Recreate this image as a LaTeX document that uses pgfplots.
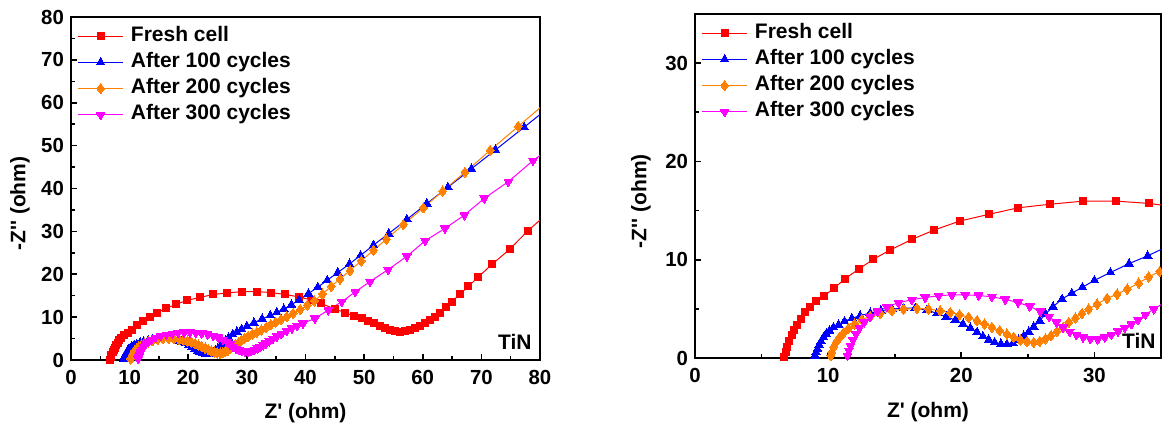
\documentclass[border=0pt]{standalone}
\usepackage{fontspec}
\setmainfont{Liberation Sans}
\usepackage{pgfplots}
\usepackage{pgfplotstable}
\pgfplotsset{compat=1.18}
\usetikzlibrary{plotmarks}
\definecolor{cRed}{RGB}{255,0,0}
\definecolor{cBlue}{RGB}{0,0,255}
\definecolor{cOrange}{RGB}{255,128,0}
\definecolor{cMag}{RGB}{255,0,255}

\pgfplotstableread{
x y
6.70 0.10
6.80 0.60
6.89 1.10
7.09 1.77
7.27 2.35
7.47 2.86
7.69 3.40
7.95 3.97
8.27 4.64
8.60 5.20
9.07 5.75
9.70 6.33
10.45 7.10
11.28 8.08
12.28 9.03
13.40 10.05
14.66 10.99
16.29 12.07
17.97 13.02
19.87 13.93
22.05 14.61
24.26 15.28
26.69 15.65
29.15 15.96
31.65 15.96
34.08 15.73
36.50 15.30
38.90 14.70
41.00 14.00
42.60 13.20
45.05 11.90
46.80 11.00
48.20 10.30
49.60 9.70
50.70 9.20
51.70 8.55
52.70 7.90
53.60 7.40
54.40 7.00
55.30 6.65
56.10 6.60
57.00 6.75
57.80 7.00
58.70 7.40
59.60 7.90
60.40 8.55
61.30 9.30
62.10 10.10
63.00 11.00
64.00 12.30
65.00 13.60
66.30 15.30
67.80 17.20
69.50 19.40
71.80 22.30
74.80 25.80
77.90 30.10
80.30 33.00
}\fresh

\pgfplotstableread{
x y
9.02 0.25
9.10 0.59
9.20 0.93
9.32 1.34
9.47 1.70
9.65 2.11
9.85 2.45
10.10 2.79
10.40 3.12
10.78 3.39
11.23 3.73
11.78 4.03
12.40 4.31
13.16 4.58
13.96 4.81
14.79 4.98
15.66 5.08
16.54 5.08
17.42 4.88
18.17 4.54
18.87 4.20
19.55 3.87
20.13 3.46
20.68 3.06
21.18 2.62
21.63 2.21
22.06 1.87
22.50 1.60
22.98 1.44
23.43 1.40
23.88 1.50
24.31 1.84
24.69 2.25
25.07 2.68
25.44 3.19
25.89 3.80
26.32 4.48
26.89 5.22
27.57 6.00
28.30 6.60
29.10 7.20
30.00 7.90
31.20 8.70
32.60 9.60
34.00 10.40
35.10 11.10
36.30 11.90
37.60 12.90
38.90 14.00
40.50 15.50
42.10 17.00
43.70 18.60
45.50 20.40
47.50 22.40
49.40 24.40
51.60 26.80
54.20 29.50
57.30 32.80
60.70 36.50
64.30 40.30
68.30 44.60
72.40 49.00
77.30 54.30
80.50 57.80
}\cyc

\pgfplotstableread{
x y
10.20 0.25
10.28 0.59
10.40 1.10
10.60 1.60
10.85 2.11
11.15 2.55
11.53 3.02
11.98 3.46
12.53 3.90
13.16 4.24
13.91 4.54
14.79 4.81
15.66 4.98
16.67 5.05
17.54 4.98
18.42 4.81
19.17 4.64
19.87 4.41
20.55 4.14
21.18 3.80
21.75 3.46
22.30 3.12
22.88 2.79
23.43 2.45
23.93 2.11
24.44 1.84
24.94 1.67
25.44 1.60
25.89 1.70
26.32 1.94
26.74 2.28
27.19 2.72
27.64 3.12
28.07 3.63
28.57 4.07
29.07 4.54
29.57 4.98
30.20 5.49
30.95 6.06
31.70 6.50
32.46 7.01
33.33 7.62
34.08 8.26
34.90 8.80
35.80 9.40
36.80 10.10
37.90 10.90
39.10 11.80
40.30 12.80
41.50 13.80
42.90 15.40
44.40 17.20
45.90 18.90
47.60 20.90
49.50 23.10
51.60 25.60
53.80 28.20
56.70 31.60
60.10 35.50
63.40 39.40
67.20 43.80
71.50 48.90
76.30 54.50
80.50 59.40
}\cyb

\pgfplotstableread{
x y
11.45 0.25
11.55 0.76
11.68 1.27
11.86 1.84
12.08 2.45
12.36 3.06
12.71 3.63
13.16 4.20
13.71 4.74
14.41 5.22
15.29 5.62
16.29 5.93
17.29 6.16
18.30 6.33
19.30 6.43
20.30 6.43
21.30 6.36
22.30 6.23
23.30 5.96
24.26 5.65
25.14 5.25
25.94 4.74
26.59 4.20
27.14 3.63
27.64 3.12
28.14 2.68
28.65 2.35
29.15 2.11
29.70 1.94
30.25 1.90
30.78 2.11
31.28 2.38
31.78 2.72
32.28 3.09
32.78 3.46
33.28 3.87
33.83 4.41
34.46 4.98
35.10 5.50
35.90 6.10
36.80 6.80
37.70 7.40
38.60 8.00
39.60 8.55
41.60 9.70
43.90 11.65
46.20 13.60
48.50 15.90
51.00 18.30
54.10 21.10
57.30 24.20
60.40 27.80
63.80 30.70
67.10 33.80
70.50 37.70
74.60 41.60
78.80 46.50
80.50 48.20
}\cyd

\pgfplotsset{
  sFresh/.style={color=cRed, line width=0.5pt, mark=square*, mark size=1.75pt,
    mark options={solid, fill=cRed, draw=cRed, line width=0pt}},
  sB/.style={color=cBlue, line width=0.5pt, mark=triangle*, mark size=2.5pt,
    mark options={solid, fill=cBlue, draw=cBlue, line width=0pt}},
  sO/.style={color=cOrange, line width=0.5pt, mark=diamond*, mark size=2.6pt,
    mark options={solid, fill=cOrange, draw=cOrange, line width=0pt}},
  sM/.style={color=cMag, line width=0.5pt, mark=triangle*, mark size=2.5pt,
    mark options={solid, fill=cMag, draw=cMag, line width=0pt, rotate=180}},
  myaxis/.style={
    scale only axis, anchor=south west,
    axis line style={line width=0.9pt},
    tick align=inside, xtick pos=bottom, ytick pos=left,
    major tick length=3pt, minor tick length=2pt,
    every tick/.style={black, line width=0.8pt},
    /pgf/number format/assume math mode=true,
    tick label style={font=\bfseries\fontsize{10.2}{12}\selectfont},
    xticklabel style={yshift=-1.5pt},
    label style={font=\bfseries\fontsize{10.5}{12}\selectfont},
    xlabel={Z\textquotesingle{} (ohm)},
    ylabel={-Z\textquotesingle\textquotesingle{} (ohm)},
    legend cell align=left,
    legend style={draw=none, fill=none, inner sep=0pt, column sep=2pt, row sep=0pt,
      at={(axis description cs:0,1)}, anchor=north west, xshift=3pt, yshift=-2.8pt,
      font=\bfseries\fontsize{10.5}{12}\selectfont,
      nodes={text height=7.6pt, text depth=2.5pt, inner sep=1.5pt}},
    legend image code/.code={\draw[mark repeat=2,mark phase=2] plot coordinates {(0cm,0cm) (0.4cm,0cm) (0.8cm,0cm)};},
  },
}

\begin{document}
\begin{tikzpicture}
\useasboundingbox (0,0) rectangle (581pt,215pt);
\begin{axis}[myaxis,
  at={(35.5pt,35pt)}, width=234.5pt, height=171.5pt,
  xmin=0, xmax=80, ymin=0, ymax=80,
  xtick={0,10,...,80}, minor xtick={5,15,...,75},
  ytick={0,10,...,80}, minor ytick={5,15,...,75},
  xlabel style={at={(axis description cs:0.5,-0.155)}, anchor=center},
  ylabel style={at={(axis description cs:-0.109,0.456)}, anchor=center, rotate=0},
]
\addplot[sFresh] table {\fresh};
\addlegendentry{Fresh cell}
\addplot[sB] table {\cyc};
\addlegendentry{After 100 cycles}
\addplot[sO] table {\cyb};
\addlegendentry{After 200 cycles}
\addplot[sM] table {\cyd};
\addlegendentry{After 300 cycles}
\node[anchor=south east, inner sep=0pt, font=\bfseries\fontsize{10.5}{12}\selectfont,
  xshift=-4pt, yshift=5pt] at (rel axis cs:1,0) {TiN};
\end{axis}
\begin{axis}[myaxis,
  at={(347.5pt,36pt)}, width=233pt, height=172pt,
  xmin=0, xmax=35, ymin=0, ymax=35,
  xtick={0,10,20,30}, minor xtick={5,15,25,35},
  ytick={0,10,20,30}, minor ytick={5,15,25},
  xlabel style={at={(axis description cs:0.5,-0.158)}, anchor=center},
  ylabel style={at={(axis description cs:-0.116,0.456)}, anchor=center, rotate=0},
]
\addplot[sFresh] table {\fresh};
\addlegendentry{Fresh cell}
\addplot[sB] table {\cyc};
\addlegendentry{After 100 cycles}
\addplot[sO] table {\cyb};
\addlegendentry{After 200 cycles}
\addplot[sM] table {\cyd};
\addlegendentry{After 300 cycles}
\node[anchor=south east, inner sep=0pt, font=\bfseries\fontsize{10.5}{12}\selectfont,
  xshift=-2.5pt, yshift=4.75pt] at (rel axis cs:1,0) {TiN};
\end{axis}
\end{tikzpicture}
\end{document}
